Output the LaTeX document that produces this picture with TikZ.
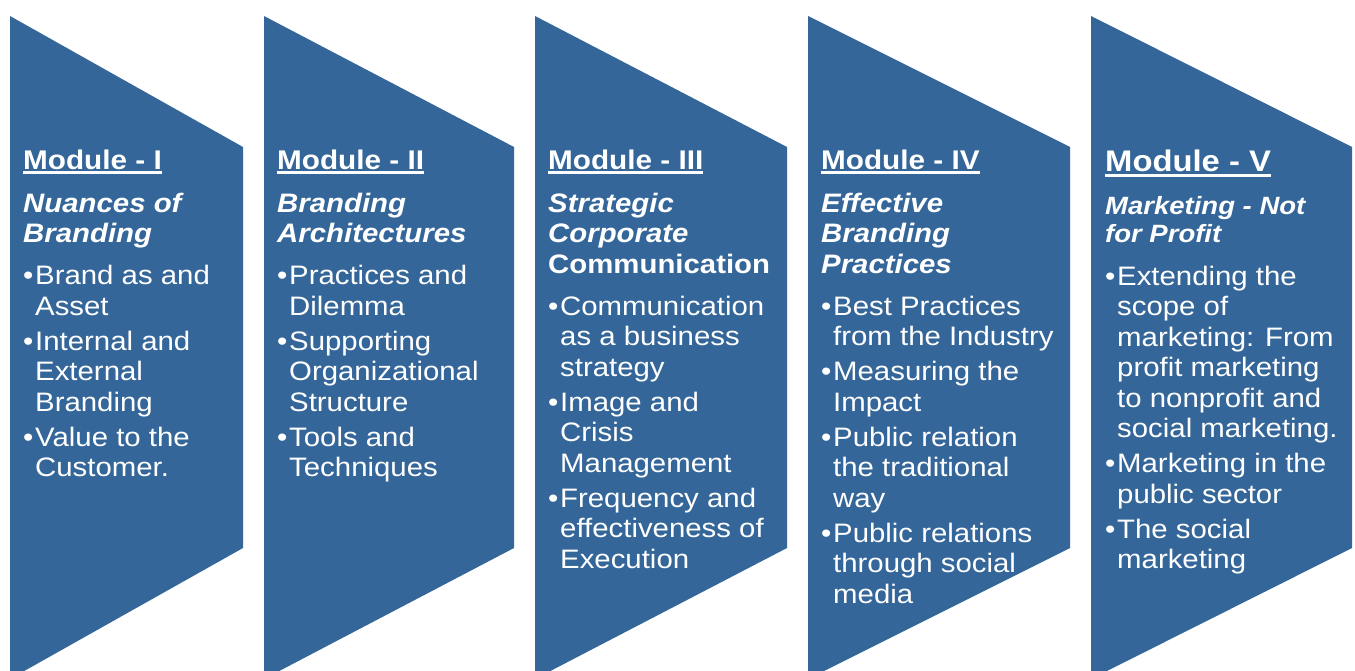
\documentclass[tikz,border=0pt]{standalone}
\usepackage{fontspec}
\setmainfont{Liberation Sans}[FakeStretch=1.1]
\definecolor{modblue}{RGB}{52,102,153}

% underlined bold module heading: #1 font size, #2 text
\newcommand\modhead[2]{\leavevmode{\fontsize{#1}{30.5}\selectfont\bfseries
  \setbox0\hbox{#2}\rlap{\rule[-5pt]{\wd0}{2.6pt}}\box0}}
% bold italic module title line
\newcommand\modsub[1]{{\bfseries\itshape #1}}
% bullet line and its continuation, with hanging indent
\newcommand\bitem[1]{\makebox[12pt][l]{\textbullet}#1}
\newcommand\bcont[1]{\hspace*{12pt}#1}

\tikzset{
  chevron/.style={fill=modblue},
  modtext/.style={anchor=base west, inner sep=0pt, text=white,
    font=\fontsize{26.7}{30.5}\selectfont},
}

\begin{document}
\begin{tikzpicture}[x=1pt,y=-1pt]
  \useasboundingbox (0,0) rectangle (1355,670);
  \clip (0,0) rectangle (1355,670);

  % five chevron panels
  \foreach \l/\r in {10/243, 264/514, 535/787, 808/1070, 1091/1352}
    \fill[chevron] (\l,16) -- (\r,147) -- (\r,548) -- (\l,679) -- cycle;

  \node[modtext] (m1) at (23,169) {\begin{minipage}[t]{230pt}\raggedright
    \modhead{27}{Module - I}\\[12.5pt]
    \modsub{Nuances of}\\
    \modsub{Branding}\\[11.5pt]
    \bitem{Brand as and}\\
    \bcont{Asset}\\[4.5pt]
    \bitem{Internal and}\\
    \bcont{External}\\
    \bcont{Branding}\\[4.5pt]
    \bitem{Value to the}\\
    \bcont{Customer.}
  \end{minipage}};

  \node[modtext] (m2) at (277,169) {\begin{minipage}[t]{240pt}\raggedright
    \modhead{27}{Module - II}\\[12.5pt]
    \modsub{Branding}\\
    \modsub{Architectures}\\[11.5pt]
    \bitem{Practices and}\\
    \bcont{Dilemma}\\[4.5pt]
    \bitem{Supporting}\\
    \bcont{Organizational}\\
    \bcont{Structure}\\[4.5pt]
    \bitem{Tools and}\\
    \bcont{Techniques}
  \end{minipage}};

  \node[modtext] (m3) at (548,169) {\begin{minipage}[t]{240pt}\raggedright
    \modhead{27}{Module - III}\\[12.5pt]
    \modsub{Strategic}\\
    \modsub{Corporate}\\
    {\bfseries Communication}\\[11.5pt]
    \bitem{Communication}\\
    \bcont{as a business}\\
    \bcont{strategy}\\[4.5pt]
    \bitem{Image and}\\
    \bcont{Crisis}\\
    \bcont{Management}\\[4.5pt]
    \bitem{Frequency and}\\
    \bcont{effectiveness of}\\
    \bcont{Execution}
  \end{minipage}};

  \node[modtext] (m4) at (821,169) {\begin{minipage}[t]{250pt}\raggedright
    \modhead{27}{Module - IV}\\[12.5pt]
    \modsub{Effective}\\
    \modsub{Branding}\\
    \modsub{Practices}\\[11.5pt]
    \bitem{Best Practices}\\
    \bcont{from the Industry}\\[4.5pt]
    \bitem{Measuring the}\\
    \bcont{Impact}\\[4.5pt]
    \bitem{Public relation}\\
    \bcont{the traditional}\\
    \bcont{way}\\[4.5pt]
    \bitem{Public relations}\\
    \bcont{through social}\\
    \bcont{media}
  \end{minipage}};

  \node[modtext] (m5) at (1105,171.5) {\begin{minipage}[t]{250pt}\raggedright
    \modhead{29.8}{Module - V}\\[12pt]
    {\fontsize{25}{28}\selectfont\modsub{Marketing - Not}}\\[-2.5pt]
    {\fontsize{25}{28}\selectfont\modsub{for Profit}}\\[12.5pt]
    \bitem{Extending the}\\
    \bcont{scope of}\\
    \bcont{marketing: From}\\
    \bcont{profit marketing}\\
    \bcont{to nonprofit and}\\
    \bcont{social marketing.}\\[4.5pt]
    \bitem{Marketing in the}\\
    \bcont{public sector}\\[4.5pt]
    \bitem{The social}\\
    \bcont{marketing}
  \end{minipage}};
\end{tikzpicture}
\end{document}
